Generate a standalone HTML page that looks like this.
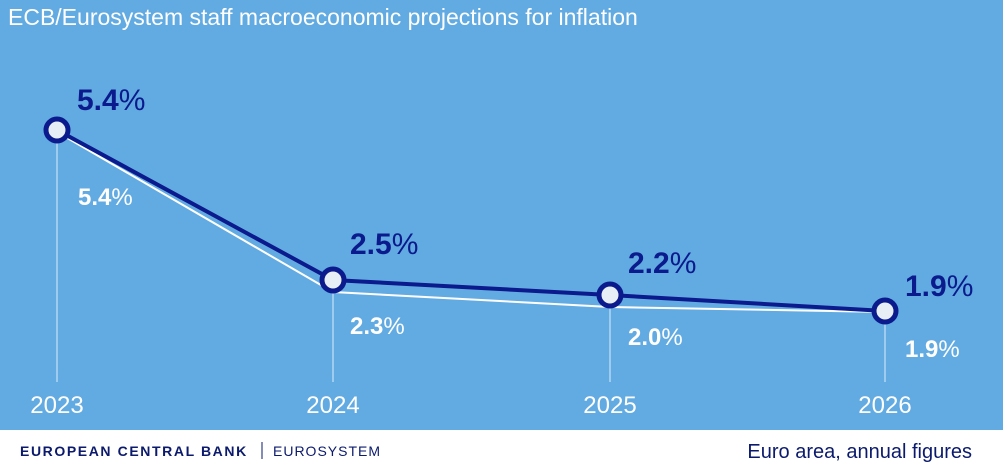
<!DOCTYPE html>
<html><head><style>
body{margin:0;width:1003px;height:467px;overflow:hidden;background:#fff;font-family:"Liberation Sans",sans-serif}
</style></head><body>
<svg width="1003" height="467" xmlns="http://www.w3.org/2000/svg" font-family="Liberation Sans, sans-serif">
<rect x="0" y="0" width="1003" height="430" fill="#62abe2"/>
<text x="8" y="25" font-size="23" fill="#fff">ECB/Eurosystem staff macroeconomic projections for inflation</text>
<g stroke="#dceefa" stroke-width="1">
<line x1="57" y1="140" x2="57" y2="382"/>
<line x1="333" y1="290" x2="333" y2="382"/>
<line x1="610" y1="306" x2="610" y2="382"/>
<line x1="885" y1="320" x2="885" y2="382"/>
</g>
<polyline points="57,132 333,292 610,307 885,312" fill="none" stroke="#fff" stroke-width="2"/>
<polyline points="57,130 333,280 610,295 885,311" fill="none" stroke="#0b1a8c" stroke-width="4"/>
<g fill="#e8eef5" stroke="#0b1a8c" stroke-width="5">
<circle cx="57" cy="130" r="11"/><circle cx="333" cy="280" r="11"/><circle cx="610" cy="295" r="11"/><circle cx="885" cy="311" r="11"/>
</g>
<g font-size="30" fill="#0b1a8c" font-weight="bold">
<text x="77" y="110">5.4<tspan font-weight="normal">%</tspan></text>
<text x="350" y="254">2.5<tspan font-weight="normal">%</tspan></text>
<text x="628" y="273">2.2<tspan font-weight="normal">%</tspan></text>
<text x="905" y="296">1.9<tspan font-weight="normal">%</tspan></text>
</g>
<g font-size="24" fill="#fff" font-weight="bold">
<text x="78" y="205">5.4<tspan font-weight="normal">%</tspan></text>
<text x="350" y="334">2.3<tspan font-weight="normal">%</tspan></text>
<text x="628" y="345">2.0<tspan font-weight="normal">%</tspan></text>
<text x="905" y="357">1.9<tspan font-weight="normal">%</tspan></text>
</g>
<g font-size="24" fill="#fff" text-anchor="middle">
<text x="57" y="413">2023</text><text x="333" y="413">2024</text><text x="610" y="413">2025</text><text x="885" y="413">2026</text>
</g>
<text x="20" y="456" font-size="14" font-weight="bold" fill="#0b1a6c" letter-spacing="1.6">EUROPEAN CENTRAL BANK</text>
<line x1="262" y1="442" x2="262" y2="459" stroke="#0b1a6c" stroke-width="1"/>
<text x="273" y="456" font-size="14" fill="#0b1a6c" letter-spacing="1">EUROSYSTEM</text>
<text x="972" y="458" font-size="20" fill="#0b1a6c" text-anchor="end">Euro area, annual figures</text>
</svg>
</body></html>
